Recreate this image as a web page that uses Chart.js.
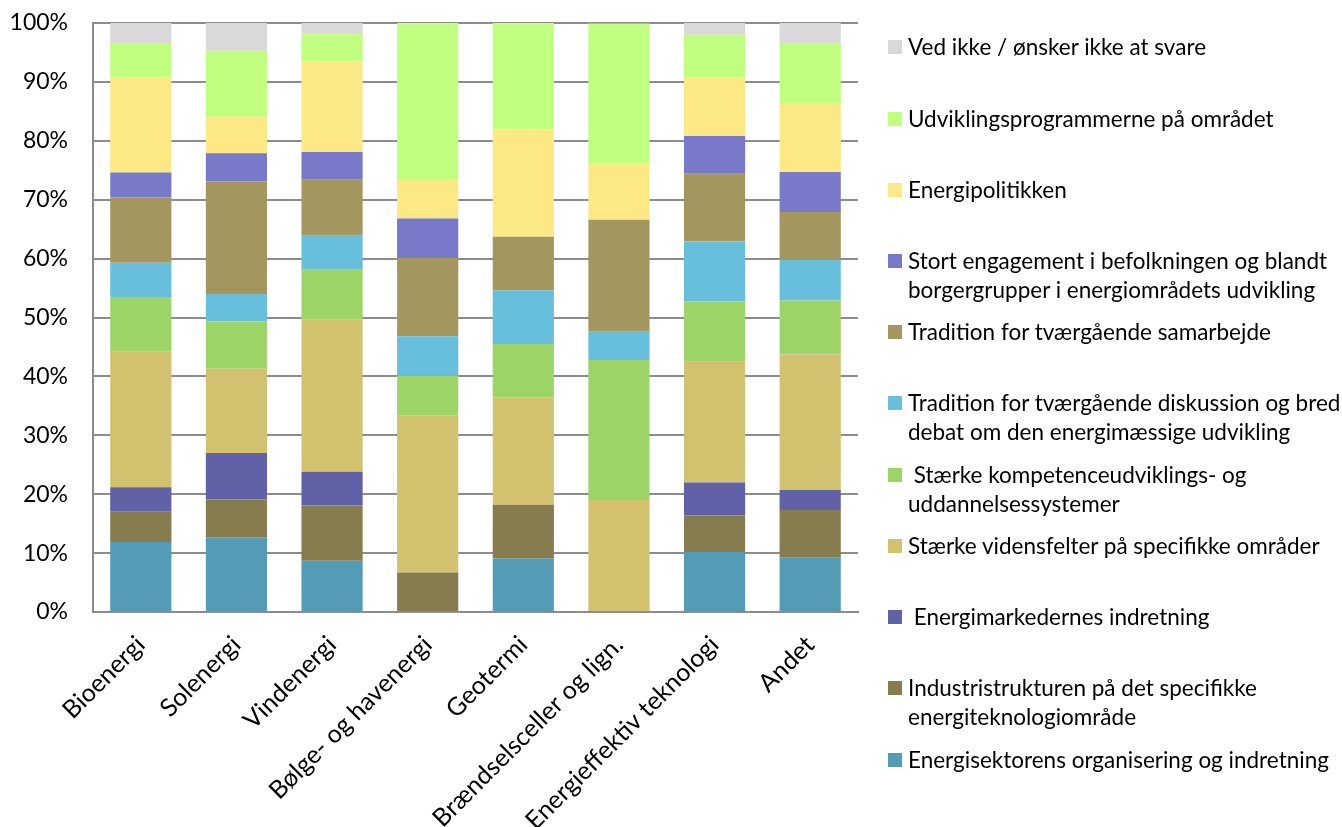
<!DOCTYPE html>
<html>
<head>
<meta charset="utf-8">
<script src="https://cdn.jsdelivr.net/npm/chart.js@4"></script>
<style>
  body { margin: 0; background: #fff; }
  #wrap { position: relative; width: 1342px; height: 827px; overflow: hidden; }
  #legend { position: absolute; left: 0; top: 0; font-family: Lato, sans-serif; font-size: 22.5px; color: #000; }
  .item { position: absolute; left: 888px; white-space: nowrap; line-height: 29px; }
  .box { position: absolute; left: 0; top: 8px; width: 14px; height: 14px; }
  .txt { position: absolute; left: 20px; top: 0; }
</style>
</head>
<body>
<div id="wrap">
  <canvas id="myChart" width="1342" height="827"></canvas>
  <div id="legend"></div>
</div>
<script>
var categories = ['Bioenergi', 'Solenergi', 'Vindenergi', 'Bølge- og havenergi', 'Geotermi',
    'Brændselsceller og lign.', 'Energieffektiv teknologi', 'Andet'];

// series, bottom of the stack first
var organisering   = [11.9, 12.7, 8.7, 0, 9.1, 0, 10.2, 9.2];
var industri       = [5.1, 6.4, 9.4, 6.7, 9.1, 0, 6.2, 8.1];
var markeder       = [4.2, 7.9, 5.7, 0, 0, 0, 5.6, 3.4];
var videnfelter    = [23.0, 14.3, 25.8, 26.7, 18.2, 19.0, 20.5, 23.0];
var kompetence     = [9.3, 8.0, 8.5, 6.7, 9.1, 23.8, 10.2, 9.2];
var diskussion     = [5.8, 4.7, 5.8, 6.7, 9.1, 4.8, 10.2, 6.9];
var samarbejde     = [11.1, 19.1, 9.5, 13.3, 9.1, 19.0, 11.5, 8.1];
var engagement     = [4.2, 4.8, 4.7, 6.7, 0, 0, 6.4, 6.8];
var energipolitik  = [16.1, 6.2, 15.3, 6.7, 18.2, 9.5, 9.9, 11.6];
var udvikling      = [5.9, 11.2, 4.7, 26.6, 18.2, 23.8, 7.3, 10.3];
var vedIkke        = [3.4, 4.7, 1.9, 0, 0, 0, 2.0, 3.4];

var yTicks = [0, 10, 20, 30, 40, 50, 60, 70, 80, 90, 100];

var series = [
    { label: 'Energisektorens organisering og indretning', data: organisering, color: '#549CB6', top: 745 },
    { label: 'Industristrukturen på det specifikke|energiteknologiområde', data: industri, color: '#877C4D', top: 673 },
    { label: '\u00a0Energimarkedernes indretning', data: markeder, color: '#6061A7', top: 602 },
    { label: 'Stærke vidensfelter på specifikke områder', data: videnfelter, color: '#D2C16F', top: 531 },
    { label: '\u00a0Stærke kompetenceudviklings- og|uddannelsessystemer', data: kompetence, color: '#9DD468', top: 460 },
    { label: 'Tradition for tværgående diskussion og bred|debat om den energimæssige udvikling', data: diskussion, color: '#67BFDB', top: 388 },
    { label: 'Tradition for tværgående samarbejde', data: samarbejde, color: '#A3965F', top: 317 },
    { label: 'Stort engagement i befolkningen og blandt|borgergrupper i energiområdets udvikling', data: engagement, color: '#7879C9', top: 246 },
    { label: 'Energipolitikken', data: energipolitik, color: '#FCE986', top: 175 },
    { label: 'Udviklingsprogrammerne på området', data: udvikling, color: '#C0FF7F', top: 104 },
    { label: 'Ved ikke / ønsker ikke at svare', data: vedIkke, color: '#D9D9D9', top: 32 }
];

var datasets = series.map(function (s) {
    return {
        label: s.label.replace('|', ' '),
        data: s.data,
        backgroundColor: s.color,
        borderWidth: 0,
        barPercentage: 0.64,
        categoryPercentage: 1
    };
});

// html legend, top entry is the last series
var legendHtml = '';
series.slice().reverse().forEach(function (s) {
    legendHtml += '<div class="item" style="top:' + s.top + 'px">' +
        '<span class="box" style="background:' + s.color + '"></span>' +
        '<span class="txt">' + s.label.split('|').join('<br>') + '</span></div>';
});
document.getElementById('legend').innerHTML = legendHtml;

var ctx = document.getElementById('myChart').getContext('2d');
var myChart = new Chart(ctx, {
    type: 'bar',
    data: { labels: categories, datasets: datasets },
    options: {
        responsive: false,
        animation: false,
        layout: { padding: { left: 0, top: 23, right: 484, bottom: 0 } },
        plugins: { legend: { display: false }, tooltip: { enabled: false } },
        scales: {
            x: {
                stacked: true,
                grid: { display: false },
                border: { color: '#8C8C8C', width: 2 },
                ticks: {
                    color: '#000',
                    font: { family: 'Lato', size: 25 },
                    maxRotation: 45,
                    minRotation: 45,
                    padding: 10
                },
                afterFit: function (scale) { scale.height = 215; }
            },
            y: {
                stacked: true,
                min: 0,
                max: 100,
                afterBuildTicks: function (scale) {
                    scale.ticks = yTicks.map(function (v) { return { value: v }; });
                },
                grid: { color: '#8C8C8C', lineWidth: 2, drawTicks: false },
                border: { color: '#8C8C8C', width: 2 },
                ticks: {
                    color: '#000',
                    padding: 25,
                    font: { family: 'Lato', size: 23 },
                    callback: function (v) { return v + '%'; }
                },
                afterFit: function (scale) {
                    scale.width = 93;
                    scale.paddingTop = 0;
                    scale.paddingBottom = 0;
                }
            }
        }
    }
});
</script>
</body>
</html>
